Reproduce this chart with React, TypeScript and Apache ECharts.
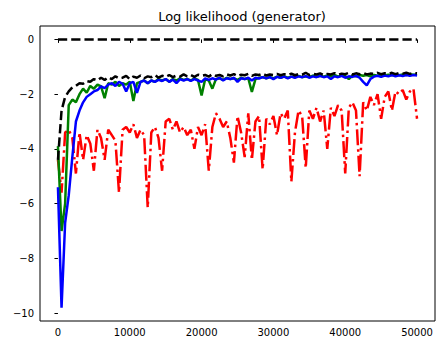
import React, { useEffect, useRef } from "react";
import * as echarts from "echarts";

const steps: number[] = Array.from({ length: 101 }, (_, i) => i * 500);

const zeroLineX = [0, 50000];
const zeroLineY = [0, 0];

const blackLL = [
  -4.4, -2.6, -2.1, -1.9, -1.75, -1.7, -1.6, -1.62, -1.52, -1.55,
  -1.45, -1.5, -1.4, -1.48, -1.38, -1.45, -1.35, -1.42, -1.4, -1.33,
  -1.45, -1.36, -1.4, -1.32, -1.42, -1.35, -1.38, -1.3, -1.4, -1.33,
  -1.37, -1.3, -1.38, -1.32, -1.36, -1.28, -1.35, -1.3, -1.37, -1.29,
  -1.33, -1.3, -1.36, -1.27, -1.33, -1.3, -1.35, -1.28, -1.32, -1.27,
  -1.34, -1.29, -1.31, -1.26, -1.33, -1.28, -1.3, -1.25, -1.32, -1.28,
  -1.3, -1.26, -1.31, -1.27, -1.3, -1.25, -1.31, -1.27, -1.29, -1.22,
  -1.3, -1.26, -1.28, -1.24, -1.3, -1.26, -1.28, -1.23, -1.29, -1.25,
  -1.27, -1.22, -1.28, -1.24, -1.27, -1.22, -1.28, -1.25, -1.26, -1.22,
  -1.27, -1.24, -1.26, -1.22, -1.27, -1.23, -1.25, -1.22, -1.26, -1.23,
  -1.24,
];

const greenLL = [
  -3.9, -7.0, -6.0, -2.4, -2.2, -2.3, -2.0, -1.8, -1.95, -1.7,
  -1.8, -1.65, -1.72, -2.15, -1.6, -1.65, -1.55, -1.7, -1.6, -1.65,
  -1.55, -2.25, -1.6, -1.55, -1.5, -1.6, -1.5, -1.55, -1.45, -1.5,
  -1.45, -1.55, -1.45, -1.5, -1.42, -1.48, -1.45, -1.5, -1.42, -1.48,
  -2.05, -1.45, -1.5, -1.8, -1.45, -1.42, -1.48, -1.4, -1.45, -1.42,
  -1.48, -1.4, -1.45, -1.42, -1.92, -1.45, -1.4, -1.38, -1.42, -1.38,
  -1.42, -1.36, -1.4, -1.35, -1.4, -1.36, -1.38, -1.33, -1.38, -1.35,
  -1.38, -1.32, -1.37, -1.33, -1.36, -1.32, -1.35, -1.3, -1.36, -1.32,
  -1.34, -1.45, -1.32, -1.35, -1.3, -1.33, -1.3, -1.35, -1.3, -1.33,
  -1.28, -1.32, -1.29, -1.31, -1.27, -1.31, -1.28, -1.3, -1.27, -1.29,
  -1.28,
];

const blueLL = [
  -5.4, -9.8, -6.7, -5.7, -4.3, -3.0, -2.6, -2.3, -2.1, -2.0,
  -1.9, -1.85, -1.72, -1.78, -1.65, -1.6, -1.7, -1.55, -1.62, -1.9,
  -1.6, -1.55, -1.95, -1.55, -1.5, -1.6, -1.5, -1.55, -1.48, -1.52,
  -1.45, -1.55, -1.47, -1.6, -1.45, -1.5, -1.45, -1.52, -1.45, -1.5,
  -1.55, -1.43, -1.48, -1.42, -1.47, -1.4, -1.5, -1.42, -1.45, -1.4,
  -1.55, -1.42, -1.45, -1.4, -1.5, -1.4, -1.43, -1.38, -1.42, -1.38,
  -1.45, -1.37, -1.4, -1.36, -1.42, -1.36, -1.4, -1.35, -1.38, -1.34,
  -1.4, -1.35, -1.38, -1.33, -1.38, -1.35, -1.45, -1.35, -1.38, -1.33,
  -1.4, -1.35, -1.37, -1.33, -1.4, -1.55, -1.68, -1.45, -1.36, -1.33,
  -1.37, -1.32, -1.35, -1.3, -1.35, -1.31, -1.34, -1.3, -1.33, -1.3,
  -1.32,
];

const redLL = [
  -4.4, -5.6, -3.4, -3.3, -3.6, -4.9, -3.4, -4.4, -3.5, -3.8,
  -4.8, -3.3, -3.6, -4.4, -3.3, -3.5, -3.7, -5.6, -3.3, -3.2,
  -3.4, -3.1, -3.6, -3.3, -3.5, -6.15, -3.4, -3.2, -3.6, -4.8,
  -3.0, -2.9, -3.3, -3.0, -3.4, -3.2, -3.5, -3.3, -4.0, -3.2,
  -3.5, -3.1, -4.8, -3.2, -2.7, -2.9, -3.2, -3.0, -3.6, -4.5,
  -2.8, -3.4, -4.3, -2.7, -4.4, -3.0, -2.8, -4.75, -2.9, -3.1,
  -2.8, -3.5, -2.7, -2.9, -2.6, -5.2, -3.4, -2.6, -2.8, -4.7,
  -2.6, -2.9, -2.5, -3.0, -2.6, -4.0, -2.5, -2.8, -2.4, -2.6,
  -4.9, -2.5, -2.3, -2.6, -5.0, -2.3, -2.6, -2.1, -2.4, -2.0,
  -2.9, -2.1, -1.9, -2.6, -1.9, -2.0, -1.85, -2.2, -1.9, -1.8,
  -2.9,
];

const xTicks = [0, 10000, 20000, 30000, 40000, 50000];
const yTicks = [-10, -8, -6, -4, -2, 0];

const pair = (xs: number[], ys: number[]) => xs.map((x, i) => [x, ys[i]]);
const minus = (v: number) => String(v).replace("-", "\u2212");

export default function App() {
  const ref = useRef<HTMLDivElement>(null);
  useEffect(() => {
    if (!ref.current) return;
    const chart = echarts.init(ref.current, null, { renderer: "svg" });
    const font = "DejaVu Sans";
    const lw = 2.5;
    chart.setOption({
      animation: false,
      backgroundColor: "#fff",
      title: {
        text: "Log likelihood (generator)",
        left: 237,
        top: 5,
        textAlign: "center",
        textStyle: { fontFamily: font, fontSize: 13, fontWeight: "normal", color: "#000" },
      },
      grid: {
        left: 40,
        right: 11,
        top: 26,
        bottom: 27,
        show: true,
        borderColor: "#000",
        borderWidth: 1,
        backgroundColor: "transparent",
      },
      xAxis: {
        type: "value",
        min: -2500,
        max: 52500,
        splitLine: { show: false },
        axisLine: { show: false },
        axisTick: { show: true, length: 3.5, lineStyle: { color: "#000" }, customValues: xTicks },
        axisLabel: {
          customValues: xTicks,
          fontFamily: font,
          fontSize: 10,
          color: "#000",
          margin: 6,
          formatter: (v: number) => minus(v),
        },
      },
      yAxis: {
        type: "value",
        min: -10.29,
        max: 0.49,
        splitLine: { show: false },
        axisLine: { show: false },
        axisTick: { show: true, length: 3.5, lineStyle: { color: "#000" }, customValues: yTicks },
        axisLabel: {
          customValues: yTicks,
          fontFamily: font,
          fontSize: 10,
          color: "#000",
          margin: 6,
          formatter: (v: number) => minus(v),
        },
      },
      series: [
        {
          type: "line",
          data: pair(steps, redLL),
          showSymbol: false,
          lineStyle: { color: "#ff0000", width: lw, type: [16, 4, 2.5, 4] },
        },
        {
          type: "line",
          data: pair(steps, greenLL),
          showSymbol: false,
          lineStyle: { color: "#008000", width: lw },
        },
        {
          type: "line",
          data: pair(steps, blueLL),
          showSymbol: false,
          lineStyle: { color: "#0000ff", width: lw },
        },
        {
          type: "line",
          data: pair(steps, blackLL),
          showSymbol: false,
          lineStyle: { color: "#000", width: lw, type: [9.25, 4] },
        },
        {
          type: "line",
          data: pair(zeroLineX, zeroLineY),
          showSymbol: false,
          lineStyle: { color: "#000", width: lw, type: [9.25, 4] },
        },
      ],
    });
    return () => chart.dispose();
  }, []);
  return (
    <div
      ref={ref}
      style={{ position: "absolute", left: 0, top: 0, width: 446, height: 348 }}
    />
  );
}
